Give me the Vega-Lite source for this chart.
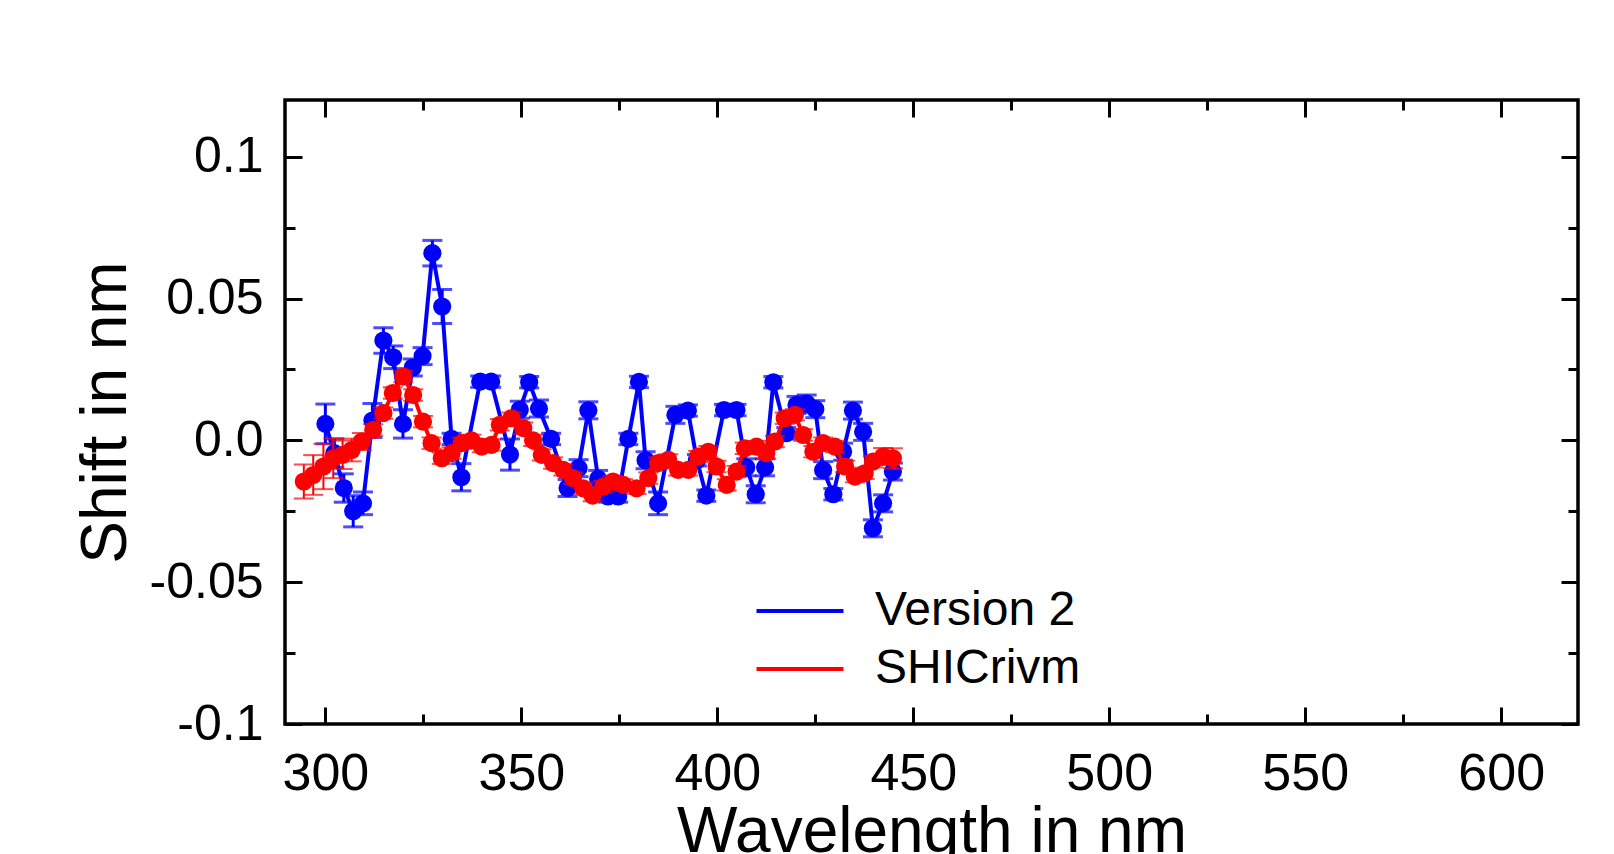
{
  "$schema": "https://vega.github.io/schema/vega-lite/v6.json",
  "width": 1293,
  "height": 624,
  "autosize": {"type": "none"},
  "padding": {"left": 285, "top": 100, "right": 36, "bottom": 130},
  "background": "white",
  "config": {
    "font": "Liberation Sans",
    "view": {"stroke": "black", "strokeWidth": 3.5}
  },
  "datasets": {
    "v2": [
      {"series": "Version 2", "nm": 300.0, "shift": 0.0058, "err": 0.007},
      {"series": "Version 2", "nm": 302.3, "shift": -0.0045, "err": 0.005},
      {"series": "Version 2", "nm": 304.7, "shift": -0.0168, "err": 0.005},
      {"series": "Version 2", "nm": 307.1, "shift": -0.025, "err": 0.0055},
      {"series": "Version 2", "nm": 309.6, "shift": -0.0222, "err": 0.004},
      {"series": "Version 2", "nm": 312.0, "shift": 0.007, "err": 0.006},
      {"series": "Version 2", "nm": 314.8, "shift": 0.0352, "err": 0.0045},
      {"series": "Version 2", "nm": 317.3, "shift": 0.0293, "err": 0.004},
      {"series": "Version 2", "nm": 319.8, "shift": 0.0058, "err": 0.005},
      {"series": "Version 2", "nm": 322.3, "shift": 0.0257, "err": 0.003},
      {"series": "Version 2", "nm": 324.8, "shift": 0.0297, "err": 0.003},
      {"series": "Version 2", "nm": 327.3, "shift": 0.066, "err": 0.0045},
      {"series": "Version 2", "nm": 329.8, "shift": 0.0472, "err": 0.006},
      {"series": "Version 2", "nm": 332.2, "shift": 0.0005, "err": 0.002},
      {"series": "Version 2", "nm": 334.7, "shift": -0.013, "err": 0.0048},
      {"series": "Version 2", "nm": 339.5, "shift": 0.0207, "err": 0.002},
      {"series": "Version 2", "nm": 342.3, "shift": 0.0207, "err": 0.002},
      {"series": "Version 2", "nm": 347.1, "shift": -0.005, "err": 0.0055},
      {"series": "Version 2", "nm": 349.6, "shift": 0.0108, "err": 0.003},
      {"series": "Version 2", "nm": 352.0, "shift": 0.0205, "err": 0.002},
      {"series": "Version 2", "nm": 354.5, "shift": 0.0112, "err": 0.003},
      {"series": "Version 2", "nm": 357.6, "shift": 0.0005, "err": 0.002},
      {"series": "Version 2", "nm": 361.8, "shift": -0.0168, "err": 0.003},
      {"series": "Version 2", "nm": 364.6, "shift": -0.0098, "err": 0.003},
      {"series": "Version 2", "nm": 367.1, "shift": 0.0106, "err": 0.003},
      {"series": "Version 2", "nm": 369.6, "shift": -0.0136, "err": 0.003},
      {"series": "Version 2", "nm": 372.1, "shift": -0.0198, "err": 0.002},
      {"series": "Version 2", "nm": 374.7, "shift": -0.0198, "err": 0.002},
      {"series": "Version 2", "nm": 377.3, "shift": 0.0005, "err": 0.002},
      {"series": "Version 2", "nm": 380.0, "shift": 0.0206, "err": 0.002},
      {"series": "Version 2", "nm": 381.7, "shift": -0.007, "err": 0.003},
      {"series": "Version 2", "nm": 384.9, "shift": -0.0222, "err": 0.004},
      {"series": "Version 2", "nm": 389.3, "shift": 0.009, "err": 0.003},
      {"series": "Version 2", "nm": 392.5, "shift": 0.0105, "err": 0.002},
      {"series": "Version 2", "nm": 394.8, "shift": -0.007, "err": 0.002},
      {"series": "Version 2", "nm": 397.2, "shift": -0.0195, "err": 0.002},
      {"series": "Version 2", "nm": 401.7, "shift": 0.0107, "err": 0.002},
      {"series": "Version 2", "nm": 404.9, "shift": 0.0107, "err": 0.002},
      {"series": "Version 2", "nm": 407.4, "shift": -0.0095, "err": 0.003},
      {"series": "Version 2", "nm": 409.8, "shift": -0.019, "err": 0.003},
      {"series": "Version 2", "nm": 412.2, "shift": -0.0095, "err": 0.003},
      {"series": "Version 2", "nm": 414.3, "shift": 0.0205, "err": 0.002},
      {"series": "Version 2", "nm": 417.6, "shift": 0.0025, "err": 0.002},
      {"series": "Version 2", "nm": 420.2, "shift": 0.0125, "err": 0.003},
      {"series": "Version 2", "nm": 422.8, "shift": 0.013, "err": 0.003},
      {"series": "Version 2", "nm": 425.0, "shift": 0.011, "err": 0.003},
      {"series": "Version 2", "nm": 427.0, "shift": -0.0105, "err": 0.003},
      {"series": "Version 2", "nm": 429.6, "shift": -0.019, "err": 0.002},
      {"series": "Version 2", "nm": 432.1, "shift": -0.004, "err": 0.003},
      {"series": "Version 2", "nm": 434.6, "shift": 0.0105, "err": 0.003},
      {"series": "Version 2", "nm": 437.2, "shift": 0.003, "err": 0.003},
      {"series": "Version 2", "nm": 439.7, "shift": -0.031, "err": 0.003},
      {"series": "Version 2", "nm": 442.3, "shift": -0.0222, "err": 0.003},
      {"series": "Version 2", "nm": 444.8, "shift": -0.011, "err": 0.003}
    ],
    "shi": [
      {"series": "SHICrivm", "nm": 294.5, "shift": -0.0145, "err": 0.006},
      {"series": "SHICrivm", "nm": 296.9, "shift": -0.0122, "err": 0.007},
      {"series": "SHICrivm", "nm": 299.5, "shift": -0.0092, "err": 0.008},
      {"series": "SHICrivm", "nm": 302.0, "shift": -0.0063, "err": 0.007},
      {"series": "SHICrivm", "nm": 304.4, "shift": -0.0051, "err": 0.005},
      {"series": "SHICrivm", "nm": 306.7, "shift": -0.0034, "err": 0.004},
      {"series": "SHICrivm", "nm": 309.3, "shift": -0.0004, "err": 0.003},
      {"series": "SHICrivm", "nm": 312.2, "shift": 0.0037, "err": 0.002},
      {"series": "SHICrivm", "nm": 314.8, "shift": 0.0096, "err": 0.002},
      {"series": "SHICrivm", "nm": 317.2, "shift": 0.0167, "err": 0.002},
      {"series": "SHICrivm", "nm": 319.9, "shift": 0.0225, "err": 0.002},
      {"series": "SHICrivm", "nm": 322.4, "shift": 0.016, "err": 0.002},
      {"series": "SHICrivm", "nm": 324.9, "shift": 0.0066, "err": 0.002},
      {"series": "SHICrivm", "nm": 327.1, "shift": -0.001, "err": 0.002},
      {"series": "SHICrivm", "nm": 329.7, "shift": -0.0063, "err": 0.002},
      {"series": "SHICrivm", "nm": 332.2, "shift": -0.0045, "err": 0.002},
      {"series": "SHICrivm", "nm": 334.8, "shift": -0.001, "err": 0.002},
      {"series": "SHICrivm", "nm": 337.3, "shift": 0.0, "err": 0.002},
      {"series": "SHICrivm", "nm": 339.9, "shift": -0.0022, "err": 0.002},
      {"series": "SHICrivm", "nm": 342.4, "shift": -0.0016, "err": 0.002},
      {"series": "SHICrivm", "nm": 344.5, "shift": 0.0055, "err": 0.002},
      {"series": "SHICrivm", "nm": 347.5, "shift": 0.0078, "err": 0.002},
      {"series": "SHICrivm", "nm": 350.5, "shift": 0.0043, "err": 0.002},
      {"series": "SHICrivm", "nm": 353.0, "shift": 0.0, "err": 0.002},
      {"series": "SHICrivm", "nm": 355.2, "shift": -0.0051, "err": 0.002},
      {"series": "SHICrivm", "nm": 358.1, "shift": -0.008, "err": 0.002},
      {"series": "SHICrivm", "nm": 360.7, "shift": -0.0104, "err": 0.002},
      {"series": "SHICrivm", "nm": 363.2, "shift": -0.0133, "err": 0.002},
      {"series": "SHICrivm", "nm": 365.8, "shift": -0.0169, "err": 0.002},
      {"series": "SHICrivm", "nm": 368.2, "shift": -0.0195, "err": 0.002},
      {"series": "SHICrivm", "nm": 370.9, "shift": -0.0163, "err": 0.002},
      {"series": "SHICrivm", "nm": 373.4, "shift": -0.0145, "err": 0.002},
      {"series": "SHICrivm", "nm": 376.0, "shift": -0.0157, "err": 0.002},
      {"series": "SHICrivm", "nm": 379.4, "shift": -0.0169, "err": 0.002},
      {"series": "SHICrivm", "nm": 382.4, "shift": -0.0133, "err": 0.002},
      {"series": "SHICrivm", "nm": 384.9, "shift": -0.008, "err": 0.002},
      {"series": "SHICrivm", "nm": 387.5, "shift": -0.0069, "err": 0.002},
      {"series": "SHICrivm", "nm": 390.0, "shift": -0.0104, "err": 0.002},
      {"series": "SHICrivm", "nm": 392.6, "shift": -0.0104, "err": 0.002},
      {"series": "SHICrivm", "nm": 395.1, "shift": -0.0057, "err": 0.002},
      {"series": "SHICrivm", "nm": 397.7, "shift": -0.004, "err": 0.002},
      {"series": "SHICrivm", "nm": 399.8, "shift": -0.0092, "err": 0.002},
      {"series": "SHICrivm", "nm": 402.4, "shift": -0.0157, "err": 0.002},
      {"series": "SHICrivm", "nm": 404.9, "shift": -0.011, "err": 0.002},
      {"series": "SHICrivm", "nm": 407.0, "shift": -0.0028, "err": 0.002},
      {"series": "SHICrivm", "nm": 410.0, "shift": -0.0022, "err": 0.002},
      {"series": "SHICrivm", "nm": 412.5, "shift": -0.0045, "err": 0.002},
      {"series": "SHICrivm", "nm": 414.7, "shift": -0.0004, "err": 0.002},
      {"series": "SHICrivm", "nm": 417.2, "shift": 0.0078, "err": 0.002},
      {"series": "SHICrivm", "nm": 419.8, "shift": 0.009, "err": 0.002},
      {"series": "SHICrivm", "nm": 421.9, "shift": 0.0019, "err": 0.002},
      {"series": "SHICrivm", "nm": 424.5, "shift": -0.004, "err": 0.002},
      {"series": "SHICrivm", "nm": 427.0, "shift": -0.001, "err": 0.002},
      {"series": "SHICrivm", "nm": 430.0, "shift": -0.0022, "err": 0.002},
      {"series": "SHICrivm", "nm": 432.6, "shift": -0.0092, "err": 0.002},
      {"series": "SHICrivm", "nm": 435.1, "shift": -0.0128, "err": 0.002},
      {"series": "SHICrivm", "nm": 437.6, "shift": -0.0116, "err": 0.002},
      {"series": "SHICrivm", "nm": 439.7, "shift": -0.0075, "err": 0.002},
      {"series": "SHICrivm", "nm": 442.3, "shift": -0.0057, "err": 0.003},
      {"series": "SHICrivm", "nm": 444.8, "shift": -0.0063, "err": 0.0035}
    ]
  },
  "resolve": {"axis": {"x": "independent", "y": "independent"}},
  "layer": [
    {
      "mark": {"type": "rule", "color": "black", "strokeWidth": 3},
      "encoding": {
        "y": {"datum": 0, "type": "quantitative", "scale": {"domain": [-0.1, 0.12], "nice": false, "zero": false}, "axis": null}
      }
    },
    {
      "data": {"name": "v2"},
      "mark": {"type": "errorbar", "color": "#0000ff", "ticks": {"size": 20, "thickness": 3, "color": "#0000ff"}, "rule": {"strokeWidth": 3, "color": "#0000ff"}},
      "encoding": {
        "x": {"field": "nm", "type": "quantitative", "scale": {"domain": [289.7, 619.6], "nice": false, "zero": false},
          "axis": {"orient": "bottom", "values": [300, 350, 400, 450, 500, 550, 600], "ticks": false, "domain": false, "grid": false,
            "labelFontSize": 52, "labelColor": "black", "labelPadding": 24, "labelFlush": false, "labelOverlap": false,
            "title": "Wavelength in nm", "titleFontSize": 64, "titleFontWeight": "normal", "titleColor": "black", "titleY": 127, "titleBaseline": "alphabetic"}},
        "y": {"field": "shift", "type": "quantitative", "scale": {"domain": [-0.1, 0.12], "nice": false, "zero": false},
          "axis": {"orient": "left", "values": [-0.1, -0.05, 0, 0.05, 0.1], "ticks": false, "domain": false, "grid": false,
            "labelFontSize": 50, "labelColor": "black", "labelPadding": 22, "labelFlush": false, "labelOverlap": false,
            "labelExpr": "datum.value === 0 ? '0.0' : '' + datum.value",
            "title": "Shift in nm", "titleFontSize": 64, "titleFontWeight": "normal", "titleColor": "black", "titleX": -160, "titleBaseline": "alphabetic"}},
        "yError": {"field": "err"}
      }
    },
    {
      "data": {"name": "v2"},
      "mark": {"type": "line", "color": "#0000ff", "strokeWidth": 4},
      "encoding": {
        "x": {"field": "nm", "type": "quantitative",
          "axis": {"orient": "bottom", "values": [300, 350, 400, 450, 500, 550, 600], "labels": false, "domain": false, "grid": false, "title": null,
            "ticks": true, "tickSize": -17, "tickWidth": 3, "tickColor": "black"}},
        "y": {"field": "shift", "type": "quantitative",
          "axis": {"orient": "left", "values": [-0.1, -0.05, 0, 0.05, 0.1], "labels": false, "domain": false, "grid": false, "title": null,
            "ticks": true, "tickSize": -17, "tickWidth": 3, "tickColor": "black"}},
        "color": {"field": "series", "type": "nominal",
          "scale": {"domain": ["Version 2", "SHICrivm"], "range": ["#0000ff", "#ff0000"]},
          "legend": {"orient": "none", "legendX": 491, "legendY": 487, "title": null, "symbolType": "M-2,0H2", "symbolSize": 1892,
            "symbolStrokeWidth": 4, "labelFontSize": 48, "labelColor": "black", "labelOffset": 51, "labelLimit": 500, "rowPadding": 10, "padding": 0}}
      }
    },
    {
      "data": {"name": "v2"},
      "mark": {"type": "circle", "color": "#0000ff", "size": 330, "opacity": 1},
      "encoding": {
        "x": {"field": "nm", "type": "quantitative",
          "axis": {"orient": "bottom", "values": [325, 375, 425, 475, 525, 575], "labels": false, "domain": false, "grid": false, "title": null,
            "ticks": true, "tickSize": -10, "tickWidth": 3, "tickColor": "black"}},
        "y": {"field": "shift", "type": "quantitative",
          "axis": {"orient": "left", "values": [-0.075, -0.025, 0.025, 0.075], "labels": false, "domain": false, "grid": false, "title": null,
            "ticks": true, "tickSize": -10, "tickWidth": 3, "tickColor": "black"}}
      }
    },
    {
      "data": {"name": "shi"},
      "mark": {"type": "errorbar", "color": "#ff0000", "ticks": {"size": 20, "thickness": 2, "color": "#ff0000"}, "rule": {"strokeWidth": 2, "color": "#ff0000"}},
      "encoding": {
        "x": {"field": "nm", "type": "quantitative",
          "axis": {"orient": "top", "values": [300, 350, 400, 450, 500, 550, 600], "labels": false, "domain": false, "grid": false, "title": null,
            "ticks": true, "tickSize": -17, "tickWidth": 3, "tickColor": "black"}},
        "y": {"field": "shift", "type": "quantitative",
          "axis": {"orient": "right", "values": [-0.1, -0.05, 0, 0.05, 0.1], "labels": false, "domain": false, "grid": false, "title": null,
            "ticks": true, "tickSize": -17, "tickWidth": 3, "tickColor": "black"}},
        "yError": {"field": "err"}
      }
    },
    {
      "data": {"name": "shi"},
      "mark": {"type": "line", "color": "#ff0000", "strokeWidth": 4},
      "encoding": {
        "x": {"field": "nm", "type": "quantitative",
          "axis": {"orient": "top", "values": [325, 375, 425, 475, 525, 575], "labels": false, "domain": false, "grid": false, "title": null,
            "ticks": true, "tickSize": -10, "tickWidth": 3, "tickColor": "black"}},
        "y": {"field": "shift", "type": "quantitative",
          "axis": {"orient": "right", "values": [-0.075, -0.025, 0.025, 0.075], "labels": false, "domain": false, "grid": false, "title": null,
            "ticks": true, "tickSize": -10, "tickWidth": 3, "tickColor": "black"}},
        "color": {"field": "series", "type": "nominal"}
      }
    },
    {
      "data": {"name": "shi"},
      "mark": {"type": "circle", "color": "#ff0000", "size": 330, "opacity": 1},
      "encoding": {
        "x": {"field": "nm", "type": "quantitative", "axis": null},
        "y": {"field": "shift", "type": "quantitative", "axis": null}
      }
    }
  ]
}
